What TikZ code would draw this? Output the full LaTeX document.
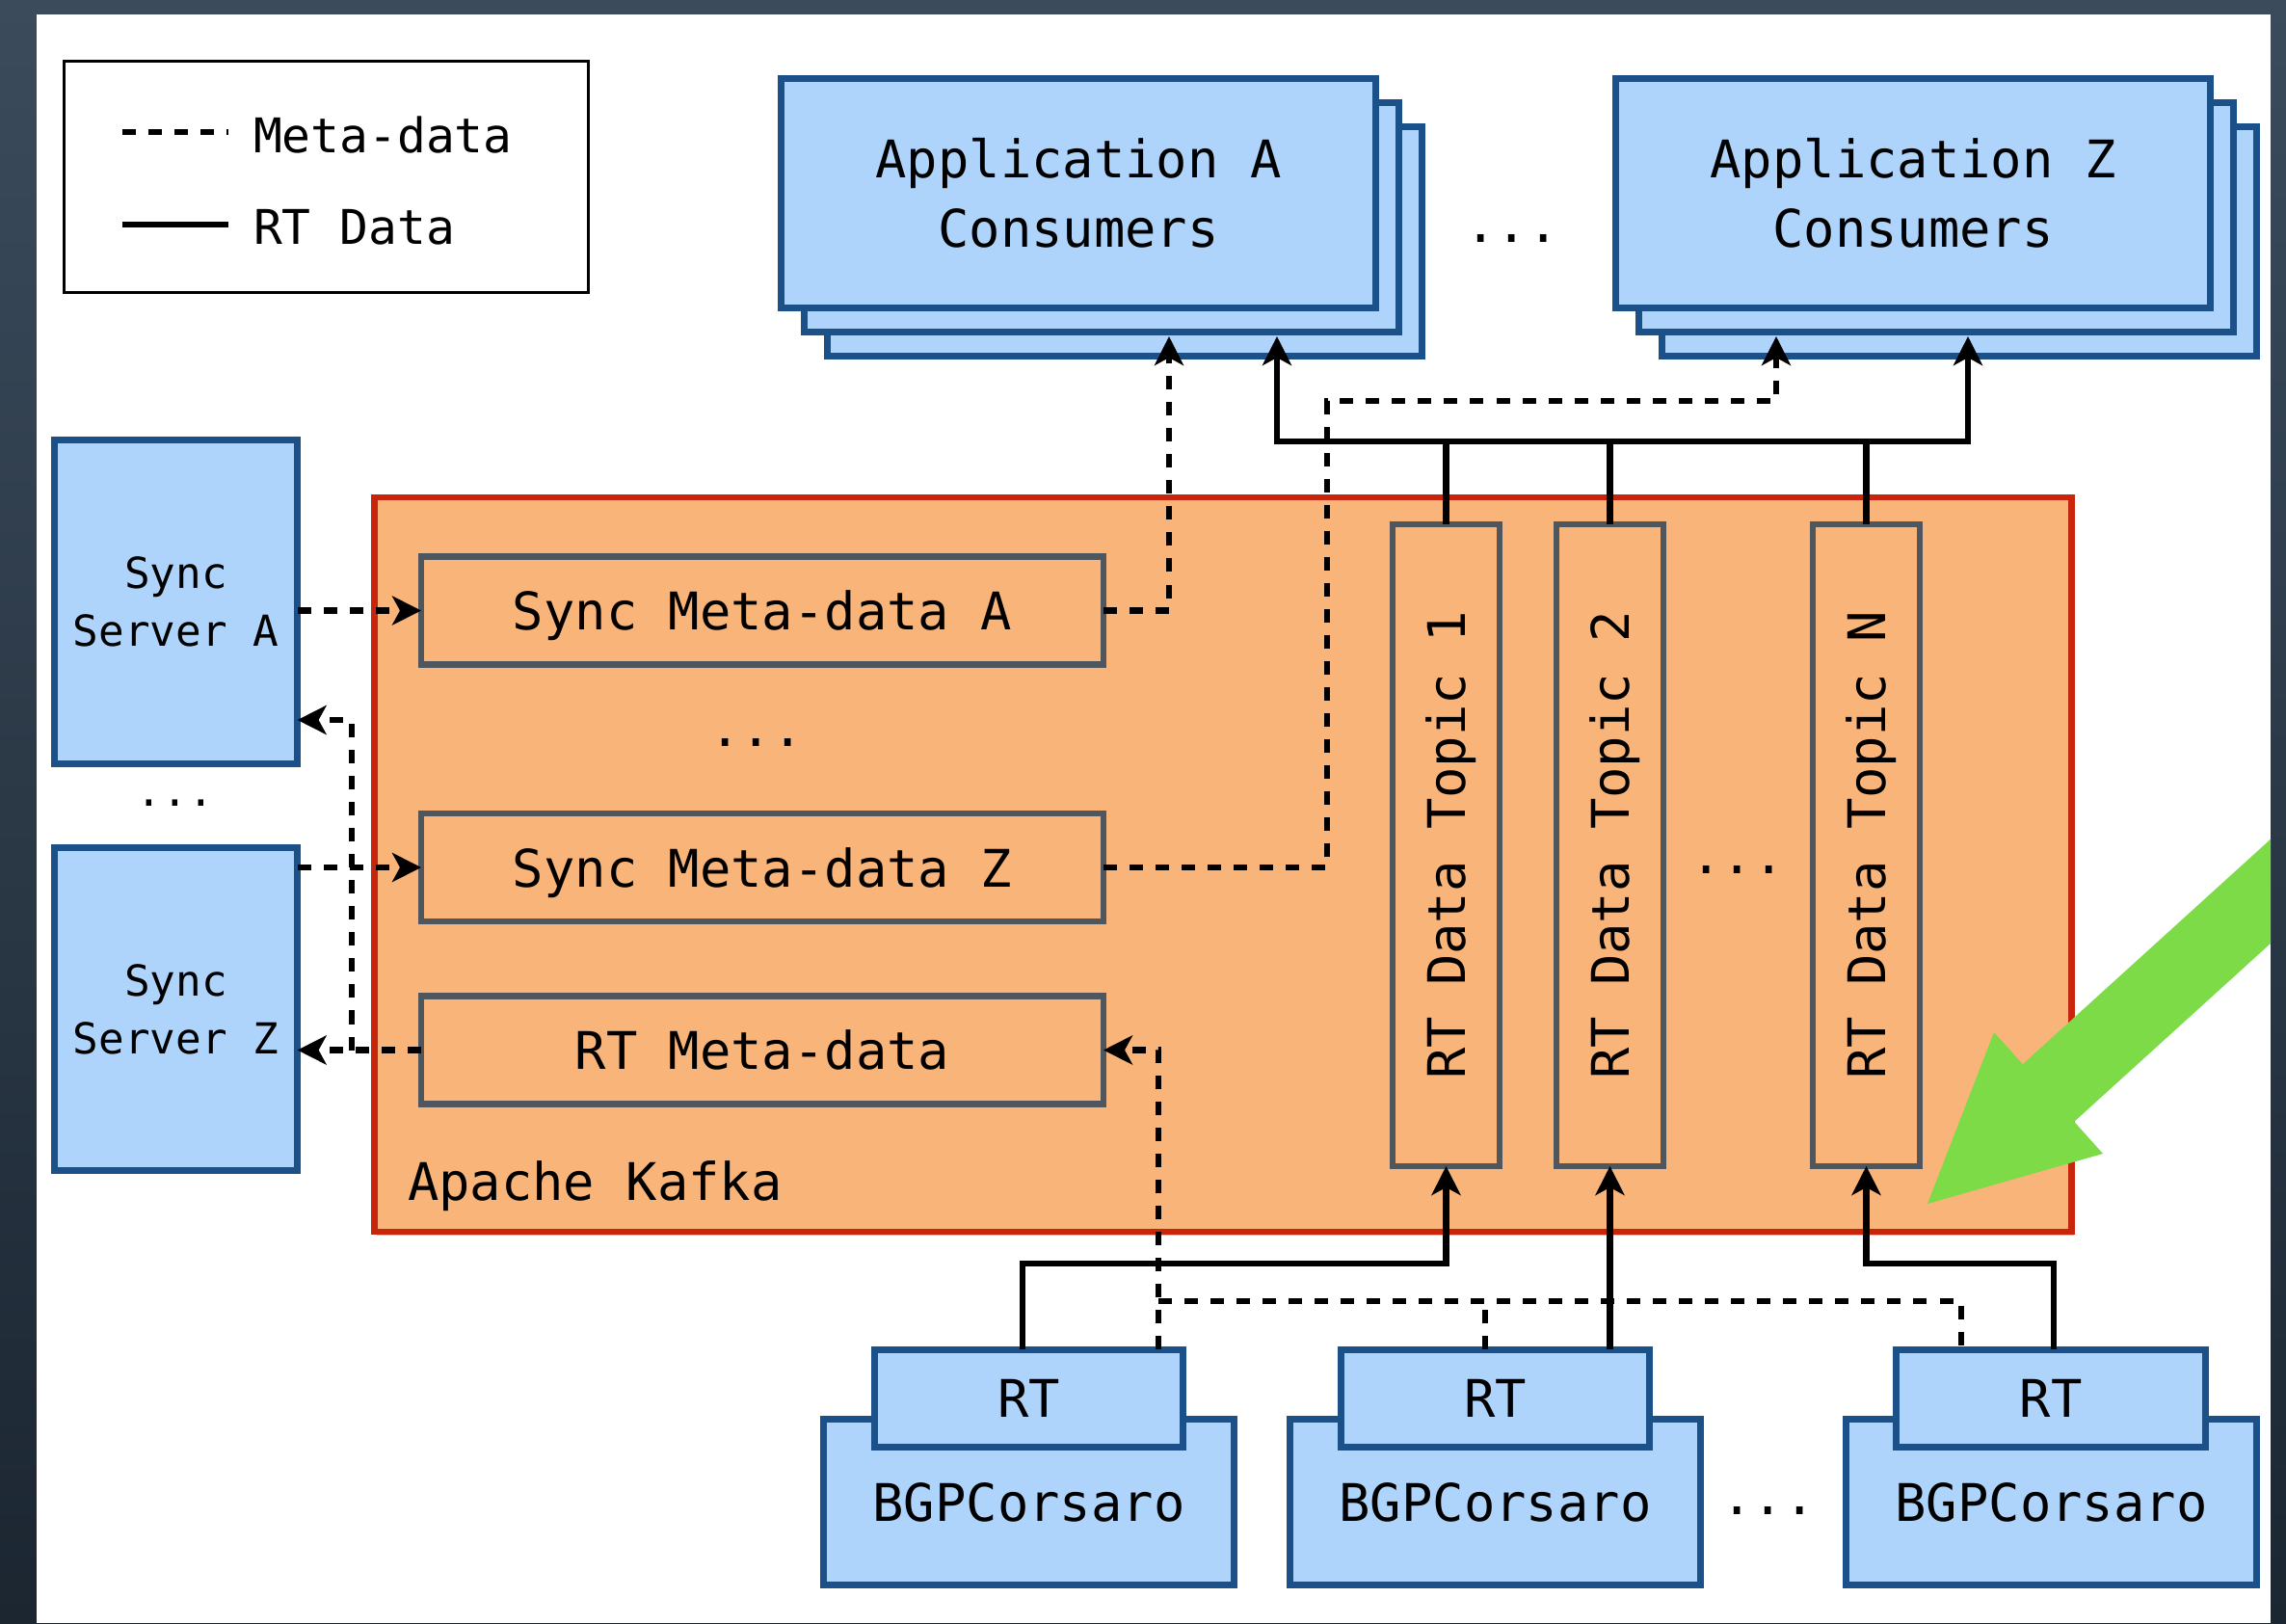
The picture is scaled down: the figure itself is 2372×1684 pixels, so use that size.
\documentclass[tikz,border=0pt]{standalone}
\usepackage{fontspec}
\setmainfont{DejaVu Sans Mono}
\usetikzlibrary{arrows.meta,calc,shadows}
\definecolor{bluefill}{HTML}{AFD4FB}
\definecolor{blueline}{HTML}{1B5088}
\definecolor{peach}{HTML}{F9B47A}
\definecolor{kafkared}{HTML}{C8260C}
\definecolor{grayline}{HTML}{50565D}
\definecolor{greenarrow}{HTML}{7DDB47}
\definecolor{bgtop}{HTML}{3B4B5C}
\definecolor{bgbottom}{HTML}{1B2631}
\newcommand\mainfs{\fontsize{15.3pt}{20.5pt}\selectfont}
\newcommand\srvfs{\fontsize{12.6pt}{17pt}\selectfont}
\newcommand\legfs{\fontsize{14.1pt}{17pt}\selectfont}
\newcommand\rotlabel[1]{\rotatebox{90}{\raisebox{0pt}[\height][0pt]{#1}}}
\tikzset{
  shadowed/.style={drop shadow={shadow xshift=0.025cm,shadow yshift=-0.035cm,opacity=0.22,fill=black}},
  bluebox/.style={draw=blueline,fill=bluefill,line width=0.07cm,inner sep=0pt,outer sep=0pt,shadowed},
  graybox/.style={draw=grayline,fill=peach,line width=0.065cm,inner sep=0pt,outer sep=0pt,shadowed},
  appbox/.style={bluebox,minimum width=6.17cm,minimum height=2.38cm},
  srvbox/.style={bluebox,minimum width=2.52cm,minimum height=3.35cm,align=center,font=\srvfs},
  metabox/.style={graybox,minimum width=7.075cm,minimum height=1.115cm,text depth=0pt},
  topicbox/.style={graybox,minimum width=1.105cm,minimum height=6.655cm},
  bgpbox/.style={bluebox,minimum width=4.26cm,minimum height=1.72cm},
  tabbox/.style={bluebox,minimum width=3.20cm,minimum height=1.01cm},
  rtline/.style={line width=0.065cm,draw=black},
  metaline/.style={line width=0.065cm,draw=black,dash pattern=on 0.14cm off 0.13cm},
  txt/.style={inner sep=0pt,outer sep=0pt},
}
\begin{document}
\begin{tikzpicture}[x=0.01cm,y=-0.01cm,font=\mainfs,>={Stealth[length=0.30cm,width=0.30cm,inset=0.08cm]}]
\useasboundingbox (0,0) rectangle (2372,1684);
\shade[top color=bgtop,bottom color=bgbottom] (0,0) rectangle (2372,1684);
\fill[white] (38,15) rectangle (2356,1684);

% legend
\node[draw=black,line width=0.03cm,minimum width=5.44cm,minimum height=2.40cm,inner sep=0pt] (legend) at (338.5,183.5) {};
\coordinate (lma) at (127,137); \coordinate (lmb) at (237,137);
\coordinate (lra) at (127,233); \coordinate (lrb) at (237,233);
\draw[metaline] (lma) -- (lmb);
\draw[rtline] (lra) -- (lrb);
\node[txt,anchor=base west,font=\legfs] (legmeta) at (263,158) {Meta-data};
\node[txt,anchor=base west,font=\legfs] (legrt) at (263,253) {RT Data};

% application stacks
\node[appbox] (appA3) at (1167,250.5) {};
\node[appbox] (appA2) at (1143,225.5) {};
\node[appbox,align=center] (appA1) at (1119,200.5) {Application A\\Consumers};
\node[appbox] (appZ3) at (2033,250.5) {};
\node[appbox] (appZ2) at (2009,225.5) {};
\node[appbox,align=center] (appZ1) at (1985,200.5) {Application Z\\Consumers};
\node[txt,anchor=base] (dotsapp) at (1569,251) {...};

% sync servers
\node[srvbox] (srvA) at (182.5,624.5) {Sync\\Server A};
\node[srvbox] (srvZ) at (182.5,1047) {Sync\\Server Z};
\node[txt,anchor=base,font=\srvfs] (dotssrv) at (182,836) {...};

% kafka
\node[draw=kafkared,fill=peach,line width=0.065cm,inner sep=0pt,shadowed,minimum width=17.60cm,minimum height=7.62cm] (kafka) at (1269,897) {};
\node[txt,anchor=base west] (kafkalabel) at (423,1245) {Apache Kafka};
\node[metabox] (sma) at (791,633.5) {Sync Meta-data A};
\node[metabox] (smz) at (791,900) {Sync Meta-data Z};
\node[metabox] (rtm) at (791,1089.5) {RT Meta-data};
\node[txt,anchor=base] (dotsmeta) at (785,774) {...};
\node[topicbox] (t1) at (1500.5,877) {\rotlabel{RT Data Topic 1}};
\node[topicbox] (t2) at (1670.5,877) {\rotlabel{RT Data Topic 2}};
\node[topicbox] (tN) at (1936.5,877) {\rotlabel{RT Data Topic N}};
\node[txt,anchor=base] (dotstopic) at (1803,906) {...};

% BGPCorsaro
\node[bgpbox] (bgp1) at (1067.5,1558.5) {BGPCorsaro};
\node[tabbox] (tab1) at (1067.5,1451) {RT};
\node[bgpbox] (bgp2) at (1551.5,1558.5) {BGPCorsaro};
\node[tabbox] (tab2) at (1551.5,1451) {RT};
\node[bgpbox] (bgp3) at (2128.5,1558.5) {BGPCorsaro};
\node[tabbox] (tab3) at (2128,1451) {RT};
\node[txt,anchor=base] (dotsbgp) at (1835,1571) {...};

% coordinates for routing
\coordinate (mA) at (1213,349);
\coordinate (kz) at (1377,416);
\coordinate (mZ) at (1843,349);
\coordinate (bL) at (1325,349);
\coordinate (bR) at (2042,349);
\coordinate (busL) at (1325,458);
\coordinate (busR) at (2042,458);
\coordinate (r1) at (1500.5,1311);
\coordinate (r3) at (1936.5,1311);
\coordinate (h1) at (1202,1350);
\coordinate (h2) at (1541,1350);
\coordinate (h3) at (2035,1350);
\coordinate (jL) at (365,1089.5);

% sync server -> sync meta-data
\draw[metaline,->] (sma.west -| srvA.east) -- (sma.west);
\draw[metaline,->] (smz.west -| srvZ.east) -- (smz.west);
% RT meta-data -> sync servers
\draw[metaline,->] (rtm.west) -- (rtm.west -| srvZ.east);
\draw[metaline,->] (jL) |- ($(srvA.east)+(0,122.5)$);
% sync meta-data -> applications
\draw[metaline,->] (sma.east) -| (mA);
\draw[metaline,->] (smz.east) -| (kz) -| (mZ);
% RT topics -> applications
\draw[rtline,<->] (bL) -- (busL) -- (busR) -- (bR);
\draw[rtline] (t1.north) -- (t1.north |- busL);
\draw[rtline] (t2.north) -- (t2.north |- busL);
\draw[rtline] (tN.north) -- (tN.north |- busL);
% BGPCorsaro RT -> topics
\draw[rtline,->] ($(tab1.north)+(-6.5,0)$) |- (r1) -- (t1.south);
\draw[rtline,->] (tab2.north -| t2.south) -- (t2.south);
\draw[rtline,->] ($(tab3.north)+(3,0)$) |- (r3) -- (tN.south);
% BGPCorsaro meta -> RT meta-data
\draw[metaline,->] ($(tab1.north)+(134.5,0)$) |- (rtm.east);
\draw[metaline] (h1) -- (h3) -- (tab3.north -| h3);
\draw[metaline] (tab2.north -| h2) -- (h2);

% green arrow
\begin{scope}
\clip (38,15) rectangle (2356,1684);
\fill[greenarrow] (2000,1249) -- (2069,1071) -- (2098.8,1104.2) -- (2542.8,701.2) -- (2596.2,760.8) -- (2152.2,1163.8) -- (2182,1197) -- cycle;
\end{scope}
\end{tikzpicture}
\end{document}
